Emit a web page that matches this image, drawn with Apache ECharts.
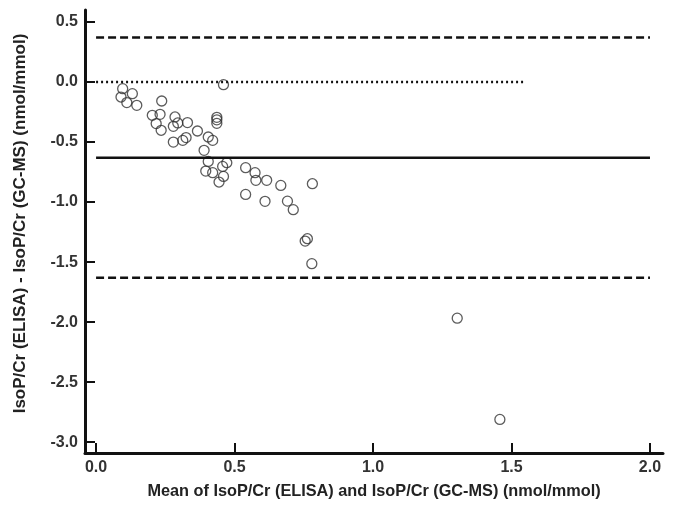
<!DOCTYPE html>
<html>
<head>
<meta charset="utf-8">
<script src="https://cdn.jsdelivr.net/npm/echarts@6/dist/echarts.min.js"></script>
<style>
html,body{margin:0;padding:0;background:#fff;}
#chart{width:673px;height:512px;}
</style>
</head>
<body>
<div id="chart"></div>
<script>
// Bland-Altman data: mean of methods (x) and difference (y)
const meanVals = [0.096,0.131,0.090,0.111,0.147,0.237,0.203,0.231,0.217,0.235,
  0.285,0.295,0.279,0.330,0.366,0.279,0.313,0.325,0.405,0.421,
  0.390,0.436,0.436,0.436,0.460,0.405,0.472,0.457,0.396,0.421,
  0.460,0.444,0.540,0.574,0.577,0.616,0.667,0.781,0.540,0.610,
  0.691,0.712,0.755,0.763,0.779,1.304,1.458];
const diffVals = [-0.055,-0.097,-0.125,-0.171,-0.194,-0.158,-0.277,-0.269,-0.346,-0.402,
  -0.291,-0.341,-0.369,-0.338,-0.408,-0.500,-0.486,-0.463,-0.458,-0.486,
  -0.569,-0.294,-0.315,-0.344,-0.022,-0.661,-0.672,-0.703,-0.742,-0.755,
  -0.786,-0.833,-0.713,-0.755,-0.819,-0.819,-0.861,-0.847,-0.936,-0.994,
  -0.992,-1.063,-1.325,-1.305,-1.513,-1.967,-2.810];

const bias = -0.63;
const upperLoA = 0.37;
const lowerLoA = -1.63;
const lineXStart = 0;
const lineXEnd = 2.0;
const zeroLineEnd = 1.55;

const xTicks = [0, 0.5, 1.0, 1.5, 2.0];
const yTicks = [-3.0, -2.5, -2.0, -1.5, -1.0, -0.5, 0.0, 0.5];

const xName = 'Mean of IsoP/Cr (ELISA) and IsoP/Cr (GC-MS) (nmol/mmol)';
const yName = 'IsoP/Cr (ELISA) - IsoP/Cr (GC-MS) (nmol/mmol)';

const points = meanVals.map((m, i) => [m, diffVals[i]]);
const font = 'Liberation Sans, Arial, sans-serif';

const chart = echarts.init(document.getElementById('chart'), null, {renderer: 'canvas'});
chart.setOption({
  animation: false,
  backgroundColor: '#ffffff',
  grid: {left: 85, right: 10, top: 10, bottom: 59, containLabel: false},
  xAxis: {
    type: 'value', min: -0.04, max: 2.047,
    name: xName, nameLocation: 'middle', nameGap: 31,
    nameTextStyle: {fontFamily: font, fontSize: 16.3, fontWeight: 'bold', color: '#222'},
    axisLine: {show: true, onZero: false, lineStyle: {color: '#111', width: 3}},
    axisTick: {show: true, inside: true, length: 10, lineStyle: {color: '#111', width: 2}, customValues: xTicks},
    axisLabel: {customValues: xTicks, margin: 7, fontFamily: font, fontSize: 16, fontWeight: 'bold', color: '#333',
      formatter: v => v.toFixed(1)},
    splitLine: {show: false}
  },
  yAxis: {
    type: 'value', min: -3.09, max: 0.6,
    name: yName, nameLocation: 'middle', nameGap: 56, nameRotate: 90,
    nameTextStyle: {fontFamily: font, fontSize: 17, fontWeight: 'bold', color: '#222', padding: [0, 0, 0, 16]},
    axisLine: {show: true, onZero: false, lineStyle: {color: '#111', width: 3}},
    axisTick: {show: true, inside: true, length: 10, lineStyle: {color: '#111', width: 2}, customValues: yTicks},
    axisLabel: {customValues: yTicks, margin: 7, fontFamily: font, fontSize: 16, fontWeight: 'bold', color: '#333',
      formatter: v => v.toFixed(1)},
    splitLine: {show: false}
  },
  series: [
    {type: 'line', data: [[lineXStart, upperLoA], [lineXEnd, upperLoA]], symbol: 'none', silent: true,
      lineStyle: {color: '#111', width: 2.5, type: [8, 4]}},
    {type: 'line', data: [[lineXStart, 0], [zeroLineEnd, 0]], symbol: 'none', silent: true,
      lineStyle: {color: '#111', width: 2.5, type: [2, 3]}},
    {type: 'line', data: [[lineXStart, bias], [lineXEnd, bias]], symbol: 'none', silent: true,
      lineStyle: {color: '#111', width: 2.5, type: 'solid'}},
    {type: 'line', data: [[lineXStart, lowerLoA], [lineXEnd, lowerLoA]], symbol: 'none', silent: true,
      lineStyle: {color: '#111', width: 2.5, type: [8, 4]}},
    {type: 'scatter', data: points, symbol: 'circle', symbolSize: 10,
      itemStyle: {color: 'rgba(255,255,255,0)', borderColor: '#333', borderWidth: 1.3}}
  ]
});
</script>
</body>
</html>
